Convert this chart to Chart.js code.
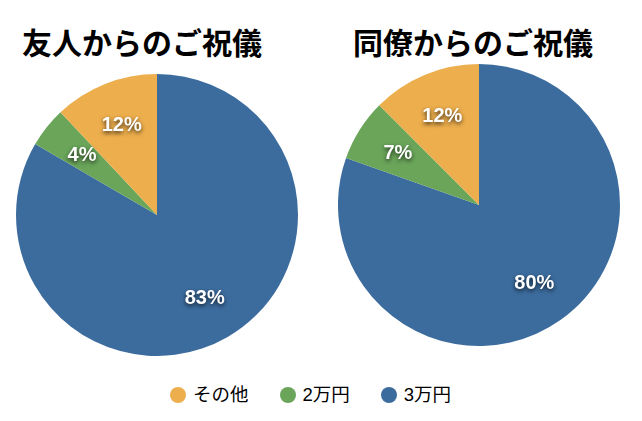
<!DOCTYPE html>
<html>
<head>
<meta charset="utf-8">
<script src="https://cdn.jsdelivr.net/npm/chart.js@4"></script>
<style>
  html, body { margin: 0; padding: 0; background: #fff; }
  #wrap { position: relative; width: 642px; height: 421px; overflow: hidden; }
  .title { position: absolute; top: 26px; font-family: "Noto Sans CJK JP", sans-serif; font-weight: 700; font-size: 30px; line-height: 1; color: #000; white-space: nowrap; }
  .pie { position: absolute; width: 282px; height: 282px; }
  #legend { position: absolute; top: 384px; left: 170px; white-space: nowrap; font-family: "Liberation Sans", "Noto Sans CJK JP", sans-serif; font-size: 18.5px; line-height: 22px; color: #000; }
  #legend span.item { display: inline-block; margin-right: 31px; }
  #legend i { display: inline-block; width: 16px; height: 16px; border-radius: 50%; vertical-align: -2px; margin-right: 7px; }
</style>
</head>
<body>
<div id="wrap">
  <div class="title" id="t1" style="left:22px"></div>
  <div class="title" id="t2" style="left:353px"></div>
  <div class="pie" style="left:16px; top:74px"><canvas id="pieFriends"></canvas></div>
  <div class="pie" style="left:338px; top:64px"><canvas id="pieColleagues"></canvas></div>
  <div id="legend"></div>
</div>
<script>
const titles = ['友人からのご祝儀', '同僚からのご祝儀'];
const categories = ['3万円', '2万円', 'その他'];
const friendsValues = [83.4, 4.6, 12.0];
const colleaguesValues = [80.4, 7.1, 12.5];
const colors = ['#3c6c9e', '#6aa55a', '#edae4d'];

document.getElementById('t1').textContent = titles[0];
document.getElementById('t2').textContent = titles[1];

// percent labels inside the slices
const sliceLabels = {
    id: 'sliceLabels',
    afterDatasetsDraw(chart) {
        const ctx = chart.ctx;
        const meta = chart.getDatasetMeta(0);
        const values = chart.data.datasets[0].data;
        ctx.save();
        ctx.font = 'bold 20px "Liberation Sans", Arial, sans-serif';
        ctx.fillStyle = '#fff';
        ctx.textAlign = 'center';
        ctx.textBaseline = 'middle';
        ctx.shadowColor = 'rgba(0,0,0,0.75)';
        ctx.shadowBlur = 4;
        ctx.shadowOffsetY = 2;
        meta.data.forEach((arc, i) => {
            const a = (arc.startAngle + arc.endAngle) / 2;
            const r = arc.outerRadius * 0.68;
            ctx.fillText(Math.floor(values[i]) + '%', arc.x + Math.cos(a) * r, arc.y + Math.sin(a) * r);
        });
        ctx.restore();
    }
};

function makePie(id, values) {
    new Chart(document.getElementById(id).getContext('2d'), {
        type: 'pie',
        data: {
            labels: categories,
            datasets: [{
                data: values,
                backgroundColor: colors,
                borderWidth: 0
            }]
        },
        options: {
            responsive: true,
            maintainAspectRatio: false,
            animation: false,
            layout: { padding: 0 },
            plugins: {
                legend: { display: false },
                tooltip: { enabled: false }
            }
        },
        plugins: [sliceLabels]
    });
}

makePie('pieFriends', friendsValues);
makePie('pieColleagues', colleaguesValues);

// shared legend, same order as the reference
const legend = document.getElementById('legend');
[2, 1, 0].forEach(i => {
    const item = document.createElement('span');
    item.className = 'item';
    const dot = document.createElement('i');
    dot.style.background = colors[i];
    item.appendChild(dot);
    item.appendChild(document.createTextNode(categories[i]));
    legend.appendChild(item);
});
</script>
</body>
</html>
